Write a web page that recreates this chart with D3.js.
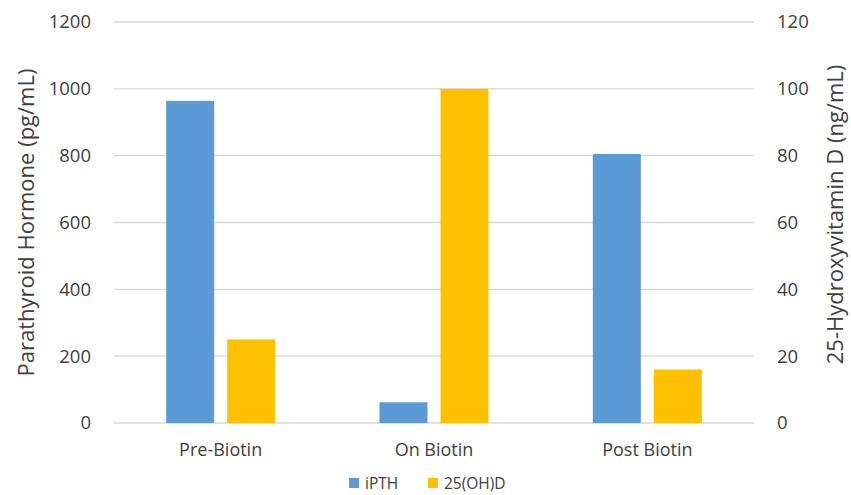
<!DOCTYPE html>
<html><head><meta charset="utf-8">
<script src="https://cdn.jsdelivr.net/npm/d3@7"></script>
<style>body{margin:0;background:#fff}svg{display:block}text{font-family:"Open Sans",sans-serif}</style>
</head><body><svg id="c" width="851" height="495"></svg>
<script>
const categories = ["Pre-Biotin", "On Biotin", "Post Biotin"];
const iPTH = [964, 62, 805];
const vitD = [25, 100, 16];
const leftTicks = [0, 200, 400, 600, 800, 1000, 1200];
const rightTicks = [0, 20, 40, 60, 80, 100, 120];

const svg = d3.select("#c");
const L = 114, R = 754, T = 22, B = 423;
const x = d3.scaleBand().domain(categories).range([L, R]);
const yL = d3.scaleLinear().domain([0, 1200]).range([B, T]);
const yR = d3.scaleLinear().domain([0, 120]).range([B, T]);

svg.append("g").selectAll("line").data(leftTicks).join("line")
  .attr("x1", L).attr("x2", R).attr("y1", d => yL(d)).attr("y2", d => yL(d))
  .attr("stroke", "#d9d9d9").attr("stroke-width", 1.3);

const bw = 48, gap = 13;
svg.append("g").selectAll("rect").data(categories).join("rect")
  .attr("x", d => x(d) + x.bandwidth()/2 - gap/2 - bw)
  .attr("width", bw)
  .attr("y", (d,i) => yL(iPTH[i]))
  .attr("height", (d,i) => B - yL(iPTH[i]))
  .attr("fill", "#5b9bd5");
svg.append("g").selectAll("rect").data(categories).join("rect")
  .attr("x", d => x(d) + x.bandwidth()/2 + gap/2)
  .attr("width", bw)
  .attr("y", (d,i) => yR(vitD[i]))
  .attr("height", (d,i) => B - yR(vitD[i]))
  .attr("fill", "#ffc000");

const fmt = d3.format("d");
const axL = d3.axisLeft(yL).tickValues(leftTicks).tickFormat(fmt).tickSize(0).tickPadding(0);
const gL = svg.append("g").attr("transform", `translate(91,0)`).call(axL);
const axR = d3.axisRight(yR).tickValues(rightTicks).tickFormat(fmt).tickSize(0).tickPadding(0);
const gR = svg.append("g").attr("transform", `translate(777,0)`).call(axR);
const axB = d3.axisBottom(x).tickSize(0).tickPadding(0);
const gB = svg.append("g").attr("transform", `translate(0,${B+20})`).call(axB);
[gL, gR, gB].forEach(g => {
  g.select(".domain").remove();
  g.selectAll("text").attr("font-size", 18.5).attr("fill", "#404040").attr("font-family", '"Open Sans",sans-serif');
});
gB.selectAll("text").attr("font-size", 18);

svg.append("text").attr("transform", `translate(34,${(T+B)/2+0}) rotate(-90)`)
  .attr("text-anchor", "middle").attr("font-size", 22).attr("fill", "#404040")
  .text("Parathyroid Hormone (pg/mL)");
svg.append("text").attr("transform", `translate(843,${(T+B)/2-8}) rotate(-90)`)
  .attr("text-anchor", "middle").attr("font-size", 22).attr("fill", "#404040")
  .text("25-Hydroxyvitamin D (ng/mL)");

const leg = svg.append("g");
const items = [["iPTH", "#5b9bd5", 349], ["25(OH)D", "#ffc000", 428]];
items.forEach(([t, c, lx]) => {
  leg.append("rect").attr("x", lx).attr("y", 478).attr("width", 10).attr("height", 10).attr("fill", c);
  leg.append("text").attr("x", lx + 16).attr("y", 489).attr("font-size", 15.5).attr("fill", "#404040").text(t);
});
</script></body></html>
